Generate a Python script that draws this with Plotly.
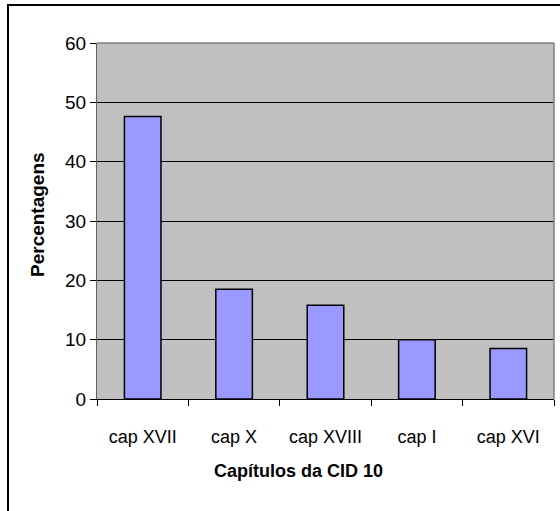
import plotly.graph_objects as go

# Chapters of ICD-10 and their percentage share
chapters = ["cap XVII", "cap X", "cap XVIII", "cap I", "cap XVI"]
percentages = [47.6, 18.5, 15.8, 10.0, 8.5]
y_ticks = [0, 10, 20, 30, 40, 50, 60]

W, H = 560, 511
L, T, R, B = 97, 43, 6, 112
pw, ph = W - L - R, H - T - B

def px_x(p):
    return (p - L) / pw

def px_y(p):
    return (H - B - p) / ph

FONT = "Liberation Sans, Arial, sans-serif"

fig = go.Figure(
    go.Bar(
        x=chapters,
        y=percentages,
        marker=dict(color="#9999FF", line=dict(color="black", width=1.5)),
        width=0.4,
        hoverinfo="x+y",
    )
)

fig.update_layout(
    width=W,
    height=H,
    margin=dict(l=L, r=R, t=T, b=B),
    paper_bgcolor="white",
    plot_bgcolor="#C0C0C0",
    showlegend=False,
    font=dict(family=FONT, size=18, color="black"),
    xaxis=dict(
        showgrid=False,
        showline=True,
        linecolor="black",
        linewidth=1,
        ticks="outside",
        tickson="boundaries",
        ticklen=6,
        tickcolor="black",
        tickfont=dict(size=18),
        ticklabelstandoff=21,
    ),
    yaxis=dict(
        range=[0, 60],
        tickvals=y_ticks,
        showgrid=True,
        gridcolor="black",
        gridwidth=1,
        showline=True,
        linecolor="#606060",
        linewidth=1,
        ticks="outside",
        ticklen=6,
        tickcolor="black",
        tickfont=dict(size=19),
        zeroline=False,
    ),
    shapes=[
        # gray plot-area frame on top and right
        dict(type="line", xref="paper", yref="paper", x0=0, x1=1, y0=1, y1=1,
             line=dict(color="#808080", width=1.5), layer="above"),
        dict(type="line", xref="paper", yref="paper", x0=1, x1=1, y0=0, y1=1,
             line=dict(color="#808080", width=1.5), layer="above"),
        # outer chart border
        dict(type="rect", xref="paper", yref="paper",
             x0=px_x(8), x1=px_x(W + 4), y0=px_y(H + 4), y1=px_y(5),
             line=dict(color="black", width=2), layer="above"),
    ],
    annotations=[
        dict(text="<b>Capítulos da CID 10</b>", xref="paper", yref="paper",
             x=px_x(298), y=px_y(471), showarrow=False,
             font=dict(size=18), xanchor="center", yanchor="middle"),
        dict(text="<b>Percentagens</b>", xref="paper", yref="paper",
             x=px_x(38), y=px_y(215), showarrow=False, textangle=-90,
             font=dict(size=19), xanchor="center", yanchor="middle"),
    ],
)

fig.write_html("out.html")
